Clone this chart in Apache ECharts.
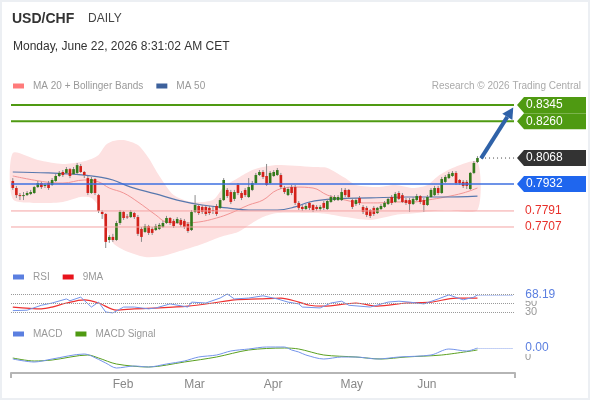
<!DOCTYPE html>
<html>
<head>
<meta charset="utf-8">
<script src="https://cdn.jsdelivr.net/npm/echarts@6/dist/echarts.min.js"></script>
<style>
html, body { margin: 0; padding: 0; background: #fff; }
#wrap { position: relative; width: 590px; height: 400px; }
#chart { width: 590px; height: 400px; }
#frame { position: absolute; left: 0; top: 0; width: 590px; height: 400px; box-sizing: border-box; border: 2px solid #eceff3; pointer-events: none; }
</style>
</head>
<body>
<div id="wrap"><div id="chart"></div><div id="frame"></div></div>
<script>
const FONT = '"Liberation Sans", Arial, sans-serif';

// daily candles, 22 Dec 2025 .. 22 Jun 2026
const opens = [
  .7948,.7911,.7874,.7869,.7874,.7880,.7885,.7916,.7937,.7922,
  .7937,.7927,.7948,.7974,.7995,.7990,.8010,.7984,.7990,.8026,
  .7995,.7963,.7885,.7958,.7874,.7786,.7775,.7639,.7655,.7639,
  .7728,.7786,.7762,.7759,.7780,.7759,.7697,.7681,.7712,.7697,
  .7691,.7697,.7707,.7728,.7754,.7739,.7728,.7744,.7739,.7723,
  .7691,.7786,.7817,.7812,.7812,.7807,.7796,.7817,.7807,.7848,
  .7901,.7890,.7854,.7927,.7885,.7901,.7864,.7901,.7937,.7979,
  .7995,.7974,.7937,.7974,.7979,.7979,.7911,.7874,.7916,.7916,
  .7833,.7812,.7801,.7833,.7822,.7812,.7801,.7833,.7801,.7838,
  .7848,.7848,.7848,.7901,.7901,.7848,.7827,.7859,.7812,.7807,
  .7796,.7807,.7780,.7801,.7812,.7827,.7864,.7838,.7885,.7874,
  .7848,.7848,.7827,.7848,.7869,.7848,.7822,.7864,.7874,.7911,
  .7885,.7943,.7963,.7974,.7990,.7953,.7943,.7943,.7906,.7990,
  .8047
];
const closes = [
  .7911,.7874,.7869,.7874,.7885,.7890,.7916,.7937,.7916,.7927,
  .7911,.7953,.7974,.7990,.7979,.8010,.7974,.8010,.8031,.7995,
  .7979,.7885,.7958,.7885,.7791,.7775,.7629,.7655,.7639,.7728,
  .7786,.7754,.7757,.7786,.7759,.7671,.7655,.7712,.7676,.7676,
  .7712,.7718,.7728,.7754,.7728,.7712,.7749,.7718,.7707,.7686,
  .7786,.7822,.7780,.7786,.7775,.7780,.7791,.7775,.7848,.7953,
  .7869,.7838,.7890,.7885,.7859,.7874,.7916,.7937,.7979,.7995,
  .7969,.7927,.7990,.7995,.8005,.7916,.7890,.7906,.7885,.7833,
  .7807,.7801,.7817,.7807,.7796,.7801,.7812,.7807,.7843,.7864,
  .7864,.7864,.7890,.7874,.7864,.7812,.7848,.7833,.7786,.7770,
  .7765,.7775,.7807,.7817,.7833,.7854,.7833,.7880,.7854,.7838,
  .7833,.7827,.7854,.7869,.7838,.7822,.7864,.7901,.7911,.7885,
  .7958,.7969,.7984,.7990,.7937,.7937,.7922,.7922,.7990,.8042,
  .8068
];
const highs = [
  .7963,.7922,.7885,.7890,.7895,.7901,.7922,.7948,.7943,.7937,
  .7948,.7963,.7984,.8000,.8005,.8021,.8016,.8021,.8042,.8037,
  .8000,.7974,.7969,.7963,.7880,.7796,.7780,.7665,.7671,.7739,
  .7796,.7791,.7775,.7796,.7786,.7770,.7707,.7723,.7718,.7707,
  .7723,.7728,.7739,.7765,.7759,.7749,.7759,.7754,.7749,.7733,
  .7796,.7874,.7827,.7822,.7817,.7817,.7812,.7827,.7859,.7963,
  .7911,.7901,.7901,.7937,.7895,.7911,.7963,.7948,.7990,.8005,
  .8005,.8037,.8000,.8005,.8016,.7990,.7922,.7916,.7927,.7927,
  .7843,.7822,.7827,.7838,.7827,.7822,.7822,.7843,.7854,.7874,
  .7874,.7874,.7911,.7911,.7906,.7859,.7859,.7869,.7822,.7817,
  .7801,.7817,.7812,.7827,.7843,.7864,.7874,.7890,.7895,.7885,
  .7859,.7859,.7864,.7880,.7874,.7859,.7874,.7911,.7922,.7922,
  .7969,.7979,.7995,.8000,.8000,.7958,.7953,.7953,.7995,.8052,
  .8078
];
const lows = [
  .7901,.7859,.7848,.7848,.7869,.7874,.7880,.7911,.7906,.7911,
  .7901,.7922,.7943,.7969,.7969,.7984,.7963,.7979,.7984,.7990,
  .7963,.7874,.7880,.7874,.7780,.7749,.7597,.7624,.7629,.7634,
  .7718,.7744,.7749,.7754,.7749,.7660,.7629,.7676,.7665,.7665,
  .7686,.7691,.7702,.7723,.7718,.7702,.7723,.7707,.7697,.7676,
  .7686,.7780,.7770,.7775,.7765,.7770,.7775,.7765,.7801,.7843,
  .7859,.7827,.7843,.7874,.7848,.7864,.7859,.7895,.7932,.7974,
  .7958,.7922,.7932,.7969,.7974,.7906,.7880,.7869,.7874,.7822,
  .7796,.7791,.7796,.7796,.7786,.7791,.7791,.7796,.7796,.7833,
  .7843,.7843,.7843,.7864,.7854,.7801,.7817,.7822,.7775,.7759,
  .7754,.7765,.7775,.7796,.7807,.7822,.7822,.7833,.7848,.7833,
  .7822,.7786,.7822,.7843,.7827,.7786,.7817,.7859,.7869,.7874,
  .7880,.7937,.7958,.7969,.7927,.7927,.7911,.7906,.7901,.7984,
  .8042
];

// indicator readings [candle index, value]
const ma20 = [[0,.7974],[9,.7943],[14,.7937],[20,.7953],[24,.7943],[27,.7911],[31,.7885],[35,.7838],[40,.7770],[43,.7733],[47,.7728],[52,.7733],[57,.7754],[61,.7780],[66,.7822],[70,.7848],[74,.7901],[79,.7916],[84,.7911],[88,.7874],[93,.7848],[98,.7833],[102,.7833],[107,.7838],[112,.7838],[116,.7848],[121,.7864],[126,.7885],[130,.7911]];
const ma50 = [[0,.7995],[10,.7990],[20,.7979],[24,.7969],[28,.7953],[33,.7916],[40,.7880],[46,.7848],[53,.7822],[60,.7807],[66,.7796],[74,.7796],[79,.7812],[83,.7838],[90,.7854],[100,.7859],[110,.7864],[120,.7864],[130,.7869]];
const bbUpper = [[0,.8094],[7,.8058],[14,.8037],[19,.8047],[22,.8063],[24,.8084],[26,.8136],[28,.8157],[31,.8162],[35,.8136],[38,.8068],[41,.7974],[45,.7874],[50,.7838],[56,.7848],[59,.7916],[63,.7963],[67,.8005],[70,.8021],[74,.8031],[84,.8021],[88,.8016],[93,.7963],[96,.7927],[102,.7916],[107,.7927],[112,.7911],[116,.7927],[119,.7974],[123,.8016],[130,.8047]];
const bbLower = [[0,.7854],[7,.7833],[14,.7838],[19,.7864],[22,.7859],[24,.7817],[26,.7718],[28,.7624],[31,.7587],[37,.7550],[42,.7555],[47,.7582],[53,.7618],[58,.7655],[63,.7681],[67,.7728],[70,.7759],[74,.7780],[84,.7780],[88,.7775],[93,.7759],[100,.7744],[107,.7770],[113,.7780],[121,.7796],[130,.7796]];
const rsi = [[0,33],[4,34],[8,45],[11,50],[15,59],[16,55],[19,63],[22,41],[24,52],[26,30],[28,28],[31,41],[34,41],[38,37],[40,39],[44,48],[49,41],[50,52],[54,50],[58,61],[60,70],[62,59],[66,61],[70,66],[74,59],[77,52],[80,48],[81,41],[86,39],[89,50],[92,54],[94,45],[100,41],[105,52],[108,54],[111,52],[115,48],[119,59],[122,68],[126,57],[129,63],[130,68.19]];
const rsiMa = [[0,41],[8,37],[11,41],[15,50],[20,57],[24,50],[29,34],[34,37],[41,39],[49,43],[56,50],[62,57],[69,59],[75,61],[80,52],[83,45],[87,43],[96,50],[102,43],[110,50],[117,52],[124,61],[130,61]];
const macd = [[0,-0.0010],[6,-0.0025],[11,-0.0010],[20,0.0015],[22,0.0005],[26,-0.0030],[29,-0.0055],[34,-0.0045],[38,-0.0050],[43,-0.0035],[48,-0.0020],[52,0.0000],[57,0.0010],[61,0.0030],[66,0.0040],[71,0.0050],[76,0.0050],[78,0.0035],[80,0.0025],[82,0.0010],[87,-0.0010],[92,0.0000],[96,0.0000],[102,-0.0010],[108,0.0000],[117,0.0010],[122,0.0040],[127,0.0030],[130,0.0045]];
const macdSignal = [[0,-0.0005],[6,-0.0020],[11,-0.0015],[21,0.0010],[24,-0.0005],[29,-0.0035],[38,-0.0050],[48,-0.0025],[57,0.0000],[66,0.0035],[76,0.0045],[80,0.0040],[87,0.0010],[96,0.0000],[103,-0.0010],[110,0.0000],[120,0.0010],[130,0.0035]];

// key levels: 2 targets, last price, pivot, 2 supports
const levels = [0.8345, 0.8260, 0.8068, 0.7932, 0.7791, 0.7707];
const levelKinds = ['target', 'target', 'last', 'pivot', 'support', 'support'];
const arrowFrom = [131, 0.8066];
const arrowTo = [140, 0.8332];

const monthTicks = ['Feb', 'Mar', 'Apr', 'May', 'Jun'];
const MONTHS = ['Jan','Feb','Mar','Apr','May','Jun','Jul','Aug','Sep','Oct','Nov','Dec'];

// trading days (weekdays) incl. 10 empty slots after the last candle
const dates = [];
for (let d = new Date(Date.UTC(2025, 11, 22)); dates.length < closes.length + 10; d.setUTCDate(d.getUTCDate() + 1)) {
  const wd = d.getUTCDay();
  if (wd > 0 && wd < 6) dates.push(d.toISOString().slice(0, 10));
}
const monthOf = s => MONTHS[+s.slice(5, 7) - 1];
const isMonthStart = i => i > 0 && dates[i].slice(5, 7) !== dates[i - 1].slice(5, 7) && monthTicks.includes(monthOf(dates[i]));

const lastIdx = closes.length - 1;
const candles = opens.map((o, i) => [i, o, closes[i], lows[i], highs[i]]);

const styles = {
  target: { line: '#4f9a12', width: 2, tag: '#4f9a12' },
  last: { tag: '#333333', dotted: true },
  pivot: { line: '#3d6fe0', width: 1.5, tag: '#1f66ee' },
  support: { line: '#f4a3a3', width: 1, text: '#e8302a' }
};

function renderCandle(params, api) {
  const i = api.value(0);
  const o = api.value(1), c = api.value(2);
  const pO = api.coord([i, o]), pC = api.coord([i, c]);
  const pL = api.coord([i, api.value(3)]), pH = api.coord([i, api.value(4)]);
  const w = api.size([1, 0])[0] * 0.74;
  return {
    type: 'group',
    children: [
      { type: 'line', shape: { x1: pH[0], y1: pH[1], x2: pL[0], y2: pL[1] }, style: { stroke: '#8a8a8a', lineWidth: 1 } },
      { type: 'rect', shape: { x: pO[0] - w / 2, y: Math.min(pO[1], pC[1]), width: w, height: Math.max(1, Math.abs(pO[1] - pC[1])) },
        style: { fill: c >= o ? '#347a1c' : '#d3221b' } }
    ]
  };
}

function renderBand(params, api) {
  const pts = bbUpper.map(p => api.coord(p)).concat(bbLower.slice().reverse().map(p => api.coord(p)));
  return { type: 'polygon', shape: { points: pts, smooth: 0.25 }, style: { fill: '#fde1e1' } };
}

function renderLevel(params, api) {
  const cs = params.coordSys;
  const v = api.value(1);
  const st = styles[levelKinds[api.value(2)]];
  const y = api.coord([0, v])[1];
  const xr = cs.x + cs.width;
  const kids = [];
  if (st.dotted) {
    const x0 = api.coord([lastIdx + 1, v])[0];
    kids.push({ type: 'line', shape: { x1: x0, y1: y, x2: xr, y2: y }, style: { stroke: '#444', lineWidth: 1, lineDash: [1, 3] } });
  } else {
    kids.push({ type: 'line', shape: { x1: cs.x, y1: y, x2: xr - 1, y2: y }, style: { stroke: st.line, lineWidth: st.width } });
  }
  if (st.tag) {
    const x1 = xr + 2, x2 = api.getWidth() - 4;
    kids.push({ type: 'polygon', shape: { points: [[x1, y], [x1 + 7, y - 8], [x2, y - 8], [x2, y + 8], [x1 + 7, y + 8]] }, style: { fill: st.tag } });
    kids.push({ type: 'text', x: x1 + 9, y: y, style: { text: v.toFixed(4), fill: '#fff', fontSize: 12, fontFamily: FONT, verticalAlign: 'middle' } });
  } else {
    kids.push({ type: 'text', x: xr + 10, y: y, style: { text: v.toFixed(4), fill: st.text, fontSize: 12, fontFamily: FONT, verticalAlign: 'middle' } });
  }
  return { type: 'group', children: kids };
}

function renderArrow(params, api) {
  const p0 = api.coord([api.value(0), api.value(1)]);
  const p1 = api.coord([api.value(2), api.value(3)]);
  const dx = p1[0] - p0[0], dy = p1[1] - p0[1];
  const len = Math.sqrt(dx * dx + dy * dy);
  const ux = dx / len, uy = dy / len;
  const hl = 11, hw = 6;
  const bx = p1[0] - ux * hl, by = p1[1] - uy * hl;
  return {
    type: 'group',
    children: [
      { type: 'line', shape: { x1: p0[0], y1: p0[1], x2: bx, y2: by }, style: { stroke: '#2f62a8', lineWidth: 4 } },
      { type: 'polygon', shape: { points: [[p1[0], p1[1]], [bx - uy * hw, by + ux * hw], [bx + uy * hw, by - ux * hw]] }, style: { fill: '#2f62a8' } }
    ]
  };
}

const legendBase = {
  left: 13, padding: 0, icon: 'rect', itemWidth: 11, itemHeight: 5, itemGap: 13, selectedMode: false,
  textStyle: { color: '#999', fontSize: 10, fontFamily: FONT, padding: [0, 0, 0, 4] }
};

const chart = echarts.init(document.getElementById('chart'));
const rsiLast = rsi[rsi.length - 1][1];
const macdLast = macd[macd.length - 1][1];

const option = {
  animation: false,
  textStyle: { fontFamily: FONT },
  title: [
    { text: 'USD/CHF', left: 12, top: 12, padding: 0, textStyle: { fontSize: 14, fontWeight: 'bold', color: '#333', fontFamily: FONT } },
    { text: 'DAILY', left: 88, top: 13, padding: 0, textStyle: { fontSize: 12, fontWeight: 'normal', color: '#444', fontFamily: FONT } },
    { text: 'Monday, June 22, 2026 8:31:02 AM CET', left: 13, top: 41, padding: 0, textStyle: { fontSize: 12, fontWeight: 'normal', color: '#333', fontFamily: FONT } },
    { text: 'Research © 2026 Trading Central', right: 9, top: 81, padding: 0, textStyle: { fontSize: 10, fontWeight: 'normal', color: '#aaa', fontFamily: FONT } }
  ],
  legend: [
    Object.assign({}, legendBase, { top: 81, data: [{ name: 'MA 20 + Bollinger Bands', itemStyle: { color: '#ff7b7b' } }, { name: 'MA 50', itemStyle: { color: '#3d619c' } }] }),
    Object.assign({}, legendBase, { top: 272, data: [{ name: 'RSI', itemStyle: { color: '#5b7fe0' } }, { name: '9MA', itemStyle: { color: '#e8141c' } }] }),
    Object.assign({}, legendBase, { top: 329, data: [{ name: 'MACD', itemStyle: { color: '#5b7fe0' } }, { name: 'MACD Signal', itemStyle: { color: '#4f9a12' } }] })
  ],
  grid: [
    { left: 11, right: 75, top: 95, height: 170 },
    { left: 11, right: 75, top: 285, height: 31.5 },
    { left: 11, right: 75, top: 338, height: 35 }
  ],
  xAxis: [0, 1, 2].map(g => ({
    type: 'category', gridIndex: g, data: dates, boundaryGap: true, show: g === 2,
    axisLine: { onZero: false, lineStyle: { color: '#b5b5b5', width: 2 } },
    axisTick: { show: true, length: 5, interval: i => i === 0, lineStyle: { color: '#b5b5b5', width: 2 } },
    splitLine: { show: false },
    axisLabel: { interval: i => isMonthStart(i), formatter: v => monthOf(v), color: '#888', fontSize: 12, margin: 6, padding: [0, 0, 0, 6] }
  })),
  yAxis: [
    { gridIndex: 0, min: 0.7508, max: 0.8398, show: false, splitLine: { show: false } },
    { gridIndex: 1, position: 'right', min: 20, max: 90, interval: 10,
      axisLine: { show: false }, axisTick: { show: false }, splitLine: { show: false },
      axisLabel: { formatter: v => (v === 30 || v === 50) ? String(v) : '', color: '#999', fontSize: 11, margin: 10 } },
    { gridIndex: 2, position: 'right', min: -0.008, max: 0.0095, interval: 0.002,
      axisLine: { show: false }, axisTick: { show: false }, splitLine: { show: false },
      axisLabel: { formatter: v => Math.abs(v) < 1e-9 ? '0' : '', color: '#999', fontSize: 11, margin: 10 } }
  ],
  series: [
    { type: 'custom', name: 'band', xAxisIndex: 0, yAxisIndex: 0, renderItem: renderBand, data: [[0, bbUpper[0][1]]], z: 1, silent: true },
    { type: 'line', name: 'MA 20 + Bollinger Bands', xAxisIndex: 0, yAxisIndex: 0, data: ma20, smooth: 0.4, showSymbol: false,
      lineStyle: { color: '#f29494', width: 1 }, itemStyle: { color: '#ff7b7b' }, z: 2 },
    { type: 'line', name: 'MA 50', xAxisIndex: 0, yAxisIndex: 0, data: ma50, smooth: 0.4, showSymbol: false,
      lineStyle: { color: '#5878ae', width: 1.2 }, itemStyle: { color: '#3d619c' }, z: 2 },
    { type: 'custom', name: 'candles', xAxisIndex: 0, yAxisIndex: 0, renderItem: renderCandle, data: candles,
      encode: { x: 0, y: [1, 2, 3, 4] }, z: 3 },
    { type: 'custom', name: 'levels', xAxisIndex: 0, yAxisIndex: 0, renderItem: renderLevel, clip: false,
      data: levels.map((v, k) => [lastIdx, v, k]), encode: { x: 0, y: 1 }, z: 4 },
    { type: 'custom', name: 'arrow', xAxisIndex: 0, yAxisIndex: 0, renderItem: renderArrow, clip: false,
      data: [[arrowFrom[0], arrowFrom[1], arrowTo[0], arrowTo[1]]], encode: { x: [0, 2], y: [1, 3] }, z: 5 },
    { type: 'line', name: 'RSI', xAxisIndex: 1, yAxisIndex: 1, data: rsi, showSymbol: false,
      lineStyle: { color: '#7494ea', width: 1 }, itemStyle: { color: '#5b7fe0' }, z: 3,
      markLine: {
        silent: true, symbol: 'none', animation: false,
        lineStyle: { type: 'dotted', color: '#999', width: 1 },
        label: { show: false },
        data: [
          { yAxis: 70 }, { yAxis: 50 }, { yAxis: 30 },
          [{ coord: [lastIdx, rsiLast], lineStyle: { color: '#8aa3ec', type: 'dotted' },
             label: { show: true, position: 'end', formatter: rsiLast.toFixed(2), color: '#5b7fe0', fontSize: 12, backgroundColor: '#fff', distance: 12 } },
           { coord: [dates.length - 1, rsiLast] }]
        ]
      } },
    { type: 'line', name: '9MA', xAxisIndex: 1, yAxisIndex: 1, data: rsiMa, smooth: 0.3, showSymbol: false,
      lineStyle: { color: '#ee3030', width: 1.2 }, itemStyle: { color: '#e8141c' }, z: 2 },
    { type: 'line', name: 'MACD', xAxisIndex: 2, yAxisIndex: 2, data: macd, smooth: 0.3, showSymbol: false,
      lineStyle: { color: '#7494ea', width: 1 }, itemStyle: { color: '#5b7fe0' }, z: 3,
      markLine: {
        silent: true, symbol: 'none', animation: false,
        data: [
          [{ coord: [lastIdx, macdLast], lineStyle: { color: '#8aa3ec', type: 'dotted', width: 1 },
             label: { show: true, position: 'end', formatter: macdLast.toFixed(2), color: '#5b7fe0', fontSize: 12, backgroundColor: '#fff', distance: 12 } },
           { coord: [dates.length - 1, macdLast] }]
        ]
      } },
    { type: 'line', name: 'MACD Signal', xAxisIndex: 2, yAxisIndex: 2, data: macdSignal, smooth: 0.3, showSymbol: false,
      lineStyle: { color: '#5aa020', width: 1 }, itemStyle: { color: '#4f9a12' }, z: 2 }
  ]
};

chart.setOption(option);
window.addEventListener('resize', chart.resize);
</script>
</body>
</html>
